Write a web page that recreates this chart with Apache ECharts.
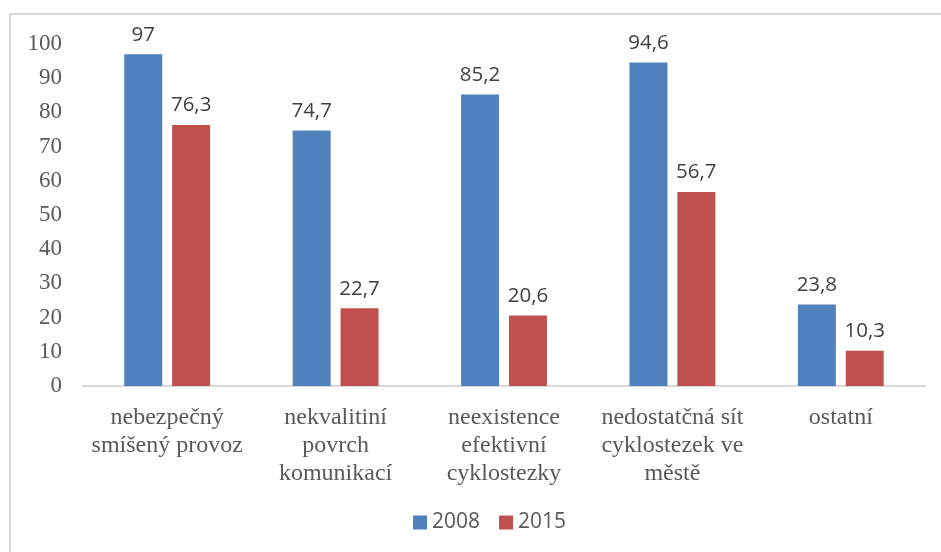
<!DOCTYPE html>
<html>
<head>
<meta charset="utf-8">
<script src="https://cdn.jsdelivr.net/npm/echarts@6/dist/echarts.min.js"></script>
<style>
  html, body { margin: 0; padding: 0; background: #fff; }
  #chart { width: 941px; height: 552px; }
</style>
</head>
<body>
<div id="chart"></div>
<script>
// Reasons (in %) for not cycling in the city, survey years 2008 and 2015
const categories = [
  'nebezpečný\nsmíšený provoz',
  'nekvalitiní\npovrch\nkomunikací',
  'neexistence\nefektivní\ncyklostezky',
  'nedostatčná sít\ncyklostezek ve\nměstě',
  'ostatní'
];
const seriesNames = ['2008', '2015'];
const values2008 = [97, 74.7, 85.2, 94.6, 23.8];
const values2015 = [76.3, 22.7, 20.6, 56.7, 10.3];
const yTicks = { min: 0, max: 100, interval: 10 };

const serif = '"Liberation Serif", "DejaVu Serif", serif';
const sans = '"Open Sans", "Noto Sans", sans-serif';
const fmt = p => String(p.value).replace('.', ',');

const chart = echarts.init(document.getElementById('chart'), null, { renderer: 'canvas' });
chart.setOption({
  animation: false,
  backgroundColor: '#fff',
  graphic: [{
    type: 'rect',
    shape: { x: 10, y: 14, width: 960, height: 600 },
    style: { fill: 'none', stroke: '#d9d9d9', lineWidth: 2 },
    silent: true
  }],
  legend: {
    data: seriesNames,
    bottom: 14,
    left: 408,
    itemWidth: 14,
    itemHeight: 14,
    itemGap: 19,
    icon: 'rect',
    textStyle: { fontFamily: sans, fontSize: 21, color: '#595959' }
  },
  grid: { left: 83, right: 16, top: 44, bottom: 166, containLabel: false },
  xAxis: {
    type: 'category',
    data: categories,
    axisLine: { lineStyle: { color: '#d9d9d9', width: 2 } },
    axisTick: { show: false },
    axisLabel: {
      interval: 0,
      margin: 18,
      fontFamily: serif,
      fontSize: 24,
      lineHeight: 28,
      color: '#595959'
    }
  },
  yAxis: {
    type: 'value',
    min: yTicks.min,
    max: yTicks.max,
    interval: yTicks.interval,
    axisLine: { show: false },
    axisTick: { show: false },
    splitLine: { show: false },
    axisLabel: {
      margin: 21,
      fontFamily: serif,
      fontSize: 23,
      color: '#595959'
    }
  },
  series: [
    {
      name: seriesNames[0],
      type: 'bar',
      data: values2008,
      barWidth: 38,
      barGap: '26%',
      itemStyle: { color: '#4f81bd' },
      label: {
        show: true, position: 'top', distance: 9, formatter: fmt,
        fontFamily: sans, fontSize: 20.5, color: '#404040'
      }
    },
    {
      name: seriesNames[1],
      type: 'bar',
      data: values2015,
      barWidth: 38,
      itemStyle: { color: '#c0504d' },
      label: {
        show: true, position: 'top', distance: 9, formatter: fmt,
        fontFamily: sans, fontSize: 20.5, color: '#404040'
      }
    }
  ]
});
</script>
</body>
</html>
